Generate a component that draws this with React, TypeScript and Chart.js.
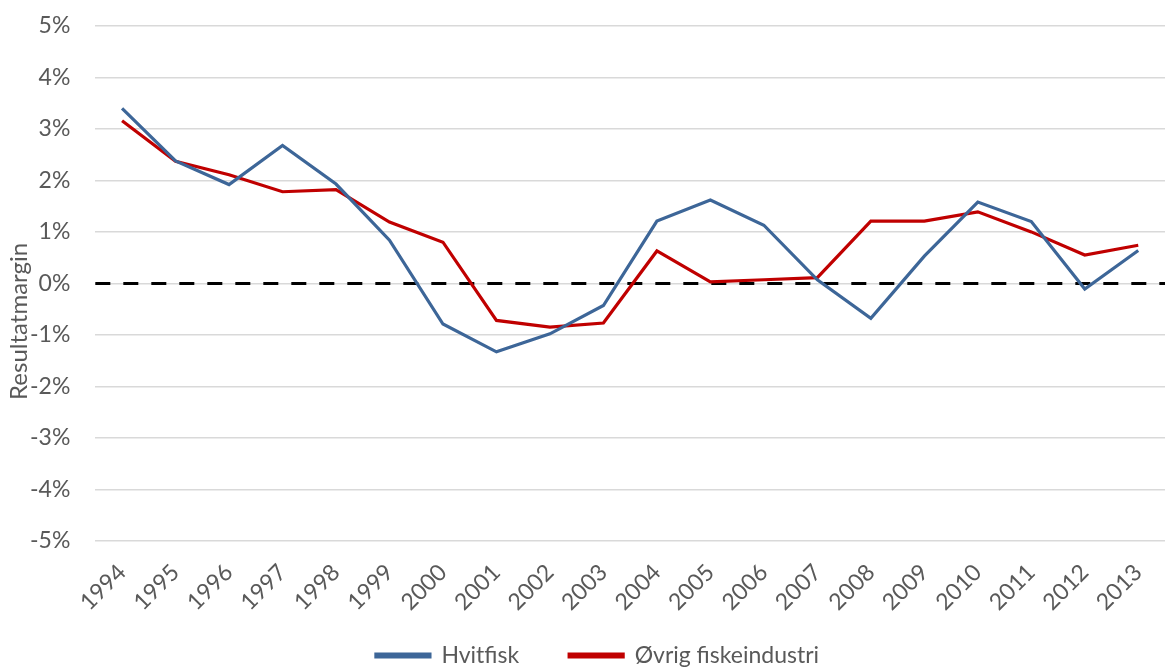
import { useEffect, useRef } from "react";
import { Chart, registerables } from "chart.js";

Chart.register(...registerables);

const years = ["1994","1995","1996","1997","1998","1999","2000","2001","2002","2003","2004","2005","2006","2007","2008","2009","2010","2011","2012","2013"];
const hvitfisk = [3.40, 2.38, 1.92, 2.68, 1.93, 0.84, -0.79, -1.33, -0.98, -0.43, 1.21, 1.62, 1.13, 0.07, -0.68, 0.53, 1.58, 1.20, -0.11, 0.64];
const ovrig = [3.16, 2.37, 2.11, 1.78, 1.82, 1.19, 0.80, -0.72, -0.85, -0.77, 0.63, 0.03, 0.07, 0.11, 1.21, 1.21, 1.39, 1.00, 0.55, 0.74];
const yMin = -5;
const yMax = 5;
const yStep = 1;
const seriesNames = ["Hvitfisk", "Øvrig fiskeindustri"];
const axisTitle = "Resultatmargin";

const FONT = "Lato";
const TEXT = "#595959";
const FS = 23;
const X_SHRINK = 32;

const zeroLine = {
  id: "zeroLine",
  beforeDatasetsDraw(chart: any) {
    const { ctx, chartArea, scales } = chart;
    const y = scales.y.getPixelForValue(0);
    ctx.save();
    ctx.beginPath();
    ctx.setLineDash([15, 13]);
    ctx.lineWidth = 3;
    ctx.strokeStyle = "#000000";
    ctx.moveTo(chartArea.left, y);
    ctx.lineTo(chartArea.right, y);
    ctx.stroke();
    ctx.restore();
  },
};

// let the x tick labels extend into the legend's empty top padding without clipping
const unclipX = {
  id: "unclipX",
  afterLayout(chart: any) {
    const s = chart.scales.x;
    s.bottom += X_SHRINK;
    s.height += X_SHRINK;
  },
};

const yTitle = {
  id: "yTitle",
  afterDraw(chart: any) {
    const { ctx, chartArea } = chart;
    ctx.save();
    ctx.font = `24px ${FONT}`;
    ctx.fillStyle = TEXT;
    ctx.textAlign = "center";
    ctx.textBaseline = "middle";
    ctx.translate(19, (chartArea.top + chartArea.bottom) / 2 + 38);
    ctx.rotate(-Math.PI / 2);
    ctx.fillText(axisTitle, 0, 0);
    ctx.restore();
  },
};

export default function App() {
  const ref = useRef<HTMLCanvasElement>(null);
  useEffect(() => {
    if (!ref.current) return;
    const chart = new Chart(ref.current, {
      type: "line",
      data: {
        labels: years,
        datasets: [
          {
            label: seriesNames[0],
            data: hvitfisk,
            borderColor: "#3d6698",
            backgroundColor: "#3d6698",
            borderWidth: 3.2,
            pointRadius: 0,
            tension: 0,
          },
          {
            label: seriesNames[1],
            data: ovrig,
            borderColor: "#c00000",
            backgroundColor: "#c00000",
            borderWidth: 3.2,
            pointRadius: 0,
            tension: 0,
          },
        ],
      },
      options: {
        animation: false,
        responsive: true,
        maintainAspectRatio: false,
        layout: { autoPadding: false, padding: { left: 30, right: 3, top: 26, bottom: -9 } },
        plugins: {
          tooltip: { enabled: false },
          legend: {
            position: "bottom",
            labels: {
              boxWidth: 54,
              boxHeight: 3,
              padding: 50,
              color: TEXT,
              font: { family: FONT, size: FS },
            },
          },
        },
        scales: {
          x: {
            offset: true,
            grid: { display: false },
            border: { display: false },
            afterFit: (s: any) => {
              s.height -= X_SHRINK;
            },
            ticks: {
              minRotation: 45,
              maxRotation: 45,
              color: TEXT,
              font: { family: FONT, size: FS },
              padding: 10,
            },
          },
          y: {
            min: yMin,
            max: yMax,
            grid: {
              color: "#d9d9d9",
              lineWidth: 1.5,
              drawTicks: true,
              tickLength: 25,
              tickColor: "rgba(0,0,0,0)",
            },
            border: { display: false },
            ticks: {
              stepSize: yStep,
              padding: 0,
              color: TEXT,
              font: { family: FONT, size: FS },
              callback: (v: any) => `${v}%`,
            },
          },
        },
      },
      plugins: [zeroLine, unclipX, yTitle],
    });
    return () => chart.destroy();
  }, []);
  return (
    <div style={{ position: "fixed", left: 0, top: 0, width: 1168, height: 668 }}>
      <canvas ref={ref} />
    </div>
  );
}
